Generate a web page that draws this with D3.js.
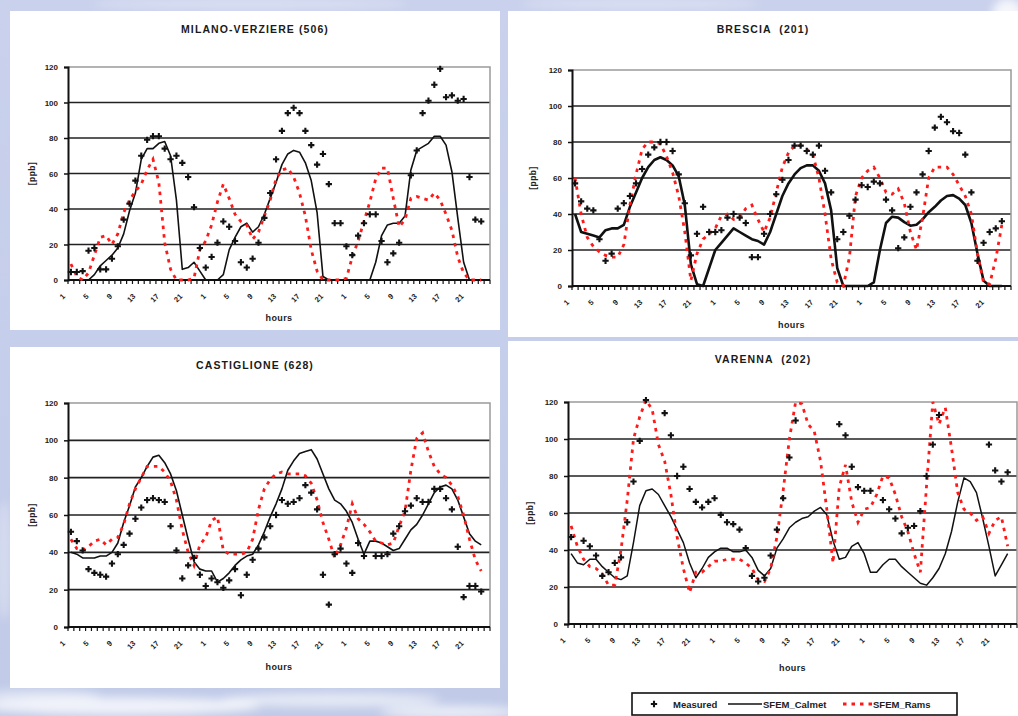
<!DOCTYPE html>
<html>
<head>
<meta charset="utf-8">
<script src="https://cdn.jsdelivr.net/npm/d3@7"></script>
<style>
  html, body { margin: 0; padding: 0; overflow: hidden; background: #c6cee9; }
  svg { display: block; font-family: "Liberation Sans", Arial, sans-serif; }
</style>
</head>
<body>
<svg id="chart" width="1018" height="716"></svg>
<script>
// ---- shared categories / ticks ----
const hours = d3.range(1, 73);                 // 3 days x 24 hours
const hourTickLabels = [1, 5, 9, 13, 17, 21];   // labelled hours of each day
const yTicks = [0, 20, 40, 60, 80, 100, 120];
const seriesNames = ["Measured", "SFEM_Calmet", "SFEM_Rams"];

// ---- MILANO-VERZIERE ----
const milanoMeasured = [4.5,4.5,5,16.5,18,6,6,12,19,34, 43,56,70,79,81,81,74,68,70,66,
  58,41,18,7,13,21,33,30,22,10, 7,12,21,35,49,68,84,94,97,94, 84,76,65,71,54,32,32,19,14,25,
  32,37,37,22,10,15,21,null,59,73, 94,101,110,119,103,104,101,102,58,34, 33,null];
const milanoCalmet = [0,0,0,0,3,8,11,14,18,26, 39,49,68,74,74,77,78,70,45,6,
  7,10,5,0,0,0,3,17,24,30, 32,27,30,37,46,55,65,71,73,72, 66,56,38,2,0,0,0,0,0,0,
  0,0,10,25,31,32,32,36,62,73, 75,77,81,81,76,61,35,10,0,0, 0,null];
const milanoRams = [9,2,0,4,14,24,25,20,26,38, 45,50,54,62,68,55,21,6,0,0,
  0,1,17,22,31,44,54,46,37,33, 31,23,27,36,45,57,62,63,58,49, 36,17,5,0,0,0,0,1,13,22,
  33,44,57,63,63,46,30,34,46,47, 46,45,49,45,37,28,13,4,0,0, 0,null];

// ---- BRESCIA ----
const bresciaMeasured = [57,47,43,42,26,14,18,43,46,50, 57,65,73,77,80,80,75,62,46,17,
  29,44,30,30,31,38,40,38,35,16, 16,29,40,51,59,70,78,78,75,73, 78,64,52,26,30,39,48,56,55,58,
  57,48,42,21,27,44,52,62,75,88, 94,91,86,85,73,52,14,24,30,32, 36,null];
const bresciaCalmet = [40,30,29,28,27,31,32,32,34,44, 52,60,66,70,71.5,70,67,61,45,12,
  1,0,10,20,24,28,32,30,28,26, 25,23,30,40,50,57,62,65.5,67,67, 64,57,42,10,0,0,0,0,0,2,
  20,35,38.5,38,35.5,33.5,34,37,41,44, 47.5,50,50.5,48.5,45,35,18,3,0,0, 0,null];
const bresciaRams = [60,40,27,22,19,17,16,16,23,45, 62,76,80,80,79,72,63,50,30,3,
  18,26,29,32,39,40,37,38,43,45, 37,30,38,52,66,74,78,78,76,73, 60,40,15,2,0,16,50,60,64,66,
  60,52,51,54,46,30,20,38,60,66, 66,66,62,56,50,40,18,2,1,15, 34,null];

// ---- CASTIGLIONE ----
const castiglioneMeasured = [51,46,41,31,29,28,27,34,39,44, 50,58,64,68,69,68,67,54,41,26,
  33,37,28,22,26,24,21,25,31,17, 28,36,42,48,54,60,68,66,67,69, 76,72,63,28,12,39,42,34,29,45,
  38,null,38,38,39,50,54,62,65,69, 67,67,74,74,69,63,43,16,22,22, 19,null];
const castiglioneCalmet = [40,39,37,37,37,38,38,40,45,56, 65,75,80,86,91,92,88,82,73,60,
  47,35,31,30,30,24,26,29,33,36, 38,39,44,51,59,66,74,84,89,93, 94,95,90,82,74,68,66,62,56,47,
  39,46,46,45,43,41,42,47,52,55, 60,66,72,75,76,74,68,59,50,46, 44,null];
const castiglioneRams = [47,42,41,43,46,47,44,47,48,55, 66,74,80,86,86,86,83,78,68,52,
  40,33,44,48,57,59,41,39,39,39, 40,47,63,74,79,82,83,82,82,82, 81,77,68,56,47,37,44,53,66,58,
  55,51,46,45,44,45,54,62,84,101, 104,94,86,82,80,76,70,60,47,36, 30,null];

// ---- VARENNA ----
const varennaMeasured = [47,null,45,42,37,26,28,33,36,55, 77,99,121,null,null,114,102,80,85,73,
  66,63,66,68,59,55,54,51,41,26, 23,25,37,51,68,90,110,null,null,null, null,null,null,108,102,85,74,72,72,null,
  67,62,57,49,52,53,61,80,97,113, null,null,null,null,null,null,null,97,83,77, 82,null];
const varennaCalmet = [38,33,32,35,35,31,28,25,24,26, 44,64,72,73,70,64,58,51,44,33,
  25,30,36,39,41,41,39,39,40,36, 29,26,30,41,46,52,55,57,58,61, 63,59,45,35,36,42,44,38,28,28,
  32,35,35,31,28,25,22,21,25,30, 38,50,66,79,77,71,57,42,26,32, 38,null];
const varennaRams = [53,42,35,31,30,27,21,21,40,67, 100,112,121,116,97,88,70,47,30,17,
  28,28,31,34,34,35,35,35,33,30, 24,23,30,47,72,100,120,119,108,104, 88,62,33,74,86,66,55,62,63,70,
  80,79,70,58,50,38,28,75,120,108, 117,95,71,62,60,56,58,49,56,58, 42,null];

// ---- panel layout ----
const panels = [
  { title: "MILANO-VERZIERE (506)", measured: milanoMeasured, calmet: milanoCalmet, rams: milanoRams,
    box: { x: 10, y: 11, w: 490, h: 319 }, plot: { l: 68, r: 490, t: 67, b: 280 },
    titleY: 29, ppbX: 32, hoursY: 318, calmetWidth: 1.6 },
  { title: "BRESCIA  (201)", measured: bresciaMeasured, calmet: bresciaCalmet, rams: bresciaRams,
    box: { x: 508, y: 11, w: 510, h: 326 }, plot: { l: 572, r: 1011, t: 70, b: 286 },
    titleY: 29, ppbX: 533, hoursY: 325, calmetWidth: 2.6 },
  { title: "CASTIGLIONE (628)", measured: castiglioneMeasured, calmet: castiglioneCalmet, rams: castiglioneRams,
    box: { x: 10, y: 347, w: 490, h: 341 }, plot: { l: 68, r: 490, t: 403, b: 627 },
    titleY: 365, ppbX: 32, hoursY: 667, calmetWidth: 1.6 },
  { title: "VARENNA  (202)", measured: varennaMeasured, calmet: varennaCalmet, rams: varennaRams,
    box: { x: 508, y: 341, w: 510, h: 375 }, plot: { l: 568, r: 1017, t: 402, b: 624 },
    titleY: 359, ppbX: 530, hoursY: 668, calmetWidth: 1.5 }
];

const svg = d3.select("#chart");
const W = 1018, H = 716;

// ---- page background with soft clouds ----
const defs = svg.append("defs");
const bgGrad = defs.append("linearGradient").attr("id", "bgGrad")
  .attr("x1", 0).attr("y1", 0).attr("x2", 0).attr("y2", 1);
bgGrad.append("stop").attr("offset", "0%").attr("stop-color", "#c9d1ec");
bgGrad.append("stop").attr("offset", "100%").attr("stop-color", "#c1cbe8");
defs.append("filter").attr("id", "cloudBlur").attr("x", "-50%").attr("y", "-50%")
  .attr("width", "200%").attr("height", "200%")
  .append("feGaussianBlur").attr("stdDeviation", 5);

svg.append("rect").attr("width", W).attr("height", H).attr("fill", "url(#bgGrad)");
const clouds = [
  { cx: 120, cy: 706, rx: 140, ry: 9, o: 0.75 },
  { cx: 330, cy: 700, rx: 110, ry: 7, o: 0.6 },
  { cx: 450, cy: 712, rx: 70, ry: 6, o: 0.7 },
  { cx: 40, cy: 696, rx: 60, ry: 6, o: 0.5 },
  { cx: 250, cy: 4, rx: 160, ry: 5, o: 0.35 },
  { cx: 640, cy: 4, rx: 120, ry: 5, o: 0.35 },
  { cx: 1008, cy: 14, rx: 16, ry: 16, o: 0.8 },
  { cx: 4, cy: 560, rx: 8, ry: 60, o: 0.3 }
];
svg.append("g").attr("filter", "url(#cloudBlur)")
  .selectAll("ellipse").data(clouds).join("ellipse")
  .attr("cx", d => d.cx).attr("cy", d => d.cy)
  .attr("rx", d => d.rx).attr("ry", d => d.ry)
  .attr("fill", "#ffffff").attr("opacity", d => d.o);

// ---- one chart panel ----
function drawPanel(p) {
  const g = svg.append("g");
  const { l, r, t, b } = p.plot;

  g.append("rect").attr("x", p.box.x).attr("y", p.box.y)
    .attr("width", p.box.w).attr("height", p.box.h).attr("fill", "#ffffff");

  g.append("text").attr("x", p.box.x + p.box.w / 2).attr("y", p.titleY)
    .attr("text-anchor", "middle").attr("dominant-baseline", "central")
    .attr("font-size", 10.5).attr("font-weight", "bold").attr("letter-spacing", 1.1)
    .attr("fill", "#1a1a1a").style("white-space", "pre").text(p.title);

  const x = d3.scaleBand().domain(hours).range([l, r]).paddingInner(0).paddingOuter(0);
  const bw = x.bandwidth();
  const cx = h => x(h) + bw / 2;
  const y = d3.scaleLinear().domain([0, 120]).range([b, t]);

  // horizontal gridlines
  g.append("g").selectAll("line").data(yTicks.filter(v => v > 0 && v < 120)).join("line")
    .attr("x1", l).attr("x2", r).attr("y1", d => y(d)).attr("y2", d => y(d))
    .attr("stroke", "#222").attr("stroke-width", 1.7);

  // plot frame: top and right edges
  g.append("path")
    .attr("d", `M${l},${y(120)}H${r}V${b}`)
    .attr("fill", "none").attr("stroke", "#9a9a9a").attr("stroke-width", 1.5);

  // y axis
  const yAxis = d3.axisLeft(y).tickValues(yTicks).tickSize(4).tickPadding(6)
    .tickFormat(d3.format("d"));
  const ya = g.append("g").attr("transform", `translate(${l},0)`).call(yAxis);
  ya.select(".domain").attr("stroke", "#111").attr("stroke-width", 2);
  ya.selectAll(".tick line").attr("stroke", "#111").attr("stroke-width", 1.5);
  ya.selectAll(".tick text").attr("font-size", 8).attr("font-weight", "bold")
    .attr("fill", "#222").attr("font-family", "Liberation Sans, Arial, sans-serif");

  // x axis: baseline, category ticks at band edges, rotated hour labels
  g.append("line").attr("x1", l).attr("x2", r).attr("y1", b).attr("y2", b)
    .attr("stroke", "#111").attr("stroke-width", 2);
  const edges = hours.map(h => x(h)).concat([r]);
  g.append("g").selectAll("line").data(edges).join("line")
    .attr("x1", d => d).attr("x2", d => d).attr("y1", b).attr("y2", b + 4)
    .attr("stroke", "#111").attr("stroke-width", 1.2);
  const labelled = hours.filter(h => hourTickLabels.includes(((h - 1) % 24) + 1));
  g.append("g").selectAll("text").data(labelled).join("text")
    .attr("transform", h => `translate(${cx(h) - 7},${b + 15}) rotate(-45)`)
    .attr("text-anchor", "end").attr("dominant-baseline", "central")
    .attr("font-size", 7.5).attr("font-weight", "bold").attr("fill", "#222")
    .text(h => ((h - 1) % 24) + 1);

  // axis titles
  g.append("text").attr("x", (l + r) / 2).attr("y", p.hoursY)
    .attr("text-anchor", "middle").attr("dominant-baseline", "central")
    .attr("font-size", 9).attr("font-weight", "bold").attr("letter-spacing", 0.4)
    .attr("fill", "#222").text("hours");
  g.append("text")
    .attr("transform", `translate(${p.ppbX},${(t + b) / 2}) rotate(-90)`)
    .attr("text-anchor", "middle").attr("dominant-baseline", "central")
    .attr("font-size", 8.5).attr("font-weight", "bold").attr("letter-spacing", 0.4)
    .attr("fill", "#222").text("[ppb]");

  const line = d3.line()
    .defined(d => d.v != null)
    .x(d => cx(d.h)).y(d => y(d.v));
  const toPts = arr => arr.map((v, i) => ({ h: hours[i], v }));

  // SFEM_Calmet
  g.append("path").datum(toPts(p.calmet)).attr("d", line)
    .attr("fill", "none").attr("stroke", "#111").attr("stroke-width", p.calmetWidth)
    .attr("stroke-linejoin", "round");

  // SFEM_Rams
  g.append("path").datum(toPts(p.rams)).attr("d", line)
    .attr("fill", "none").attr("stroke", "#ff1a1a").attr("stroke-width", 2.8)
    .attr("stroke-dasharray", "3.5,5");

  // Measured
  const cross = d3.symbol(d3.symbolCross, 22);
  g.append("g").selectAll("path")
    .data(toPts(p.measured).filter(d => d.v != null)).join("path")
    .attr("transform", d => `translate(${cx(d.h)},${y(d.v)})`)
    .attr("d", cross).attr("fill", "#111");
}

panels.forEach(drawPanel);

// ---- legend ----
const lg = svg.append("g");
const lgBox = { x: 632, y: 693, w: 325, h: 22 };
lg.append("rect").attr("x", lgBox.x).attr("y", lgBox.y).attr("width", lgBox.w).attr("height", lgBox.h)
  .attr("fill", "#ffffff").attr("stroke", "#111").attr("stroke-width", 1.6);
const ly = lgBox.y + lgBox.h / 2;
lg.append("path").attr("transform", `translate(654,${ly})`)
  .attr("d", d3.symbol(d3.symbolCross, 22)).attr("fill", "#111");
lg.append("line").attr("x1", 728).attr("x2", 762).attr("y1", ly).attr("y2", ly)
  .attr("stroke", "#111").attr("stroke-width", 1.5);
lg.append("line").attr("x1", 843).attr("x2", 872).attr("y1", ly).attr("y2", ly)
  .attr("stroke", "#ff1a1a").attr("stroke-width", 2.8).attr("stroke-dasharray", "3.5,5");
const legendText = [
  { x: 673, s: seriesNames[0] },
  { x: 763, s: seriesNames[1] },
  { x: 873, s: seriesNames[2] }
];
lg.selectAll("text.lt").data(legendText).join("text").attr("class", "lt")
  .attr("x", d => d.x).attr("y", ly).attr("dominant-baseline", "central")
  .attr("font-size", 9.5).attr("font-weight", "bold").attr("fill", "#222")
  .text(d => d.s);
</script>
</body>
</html>
